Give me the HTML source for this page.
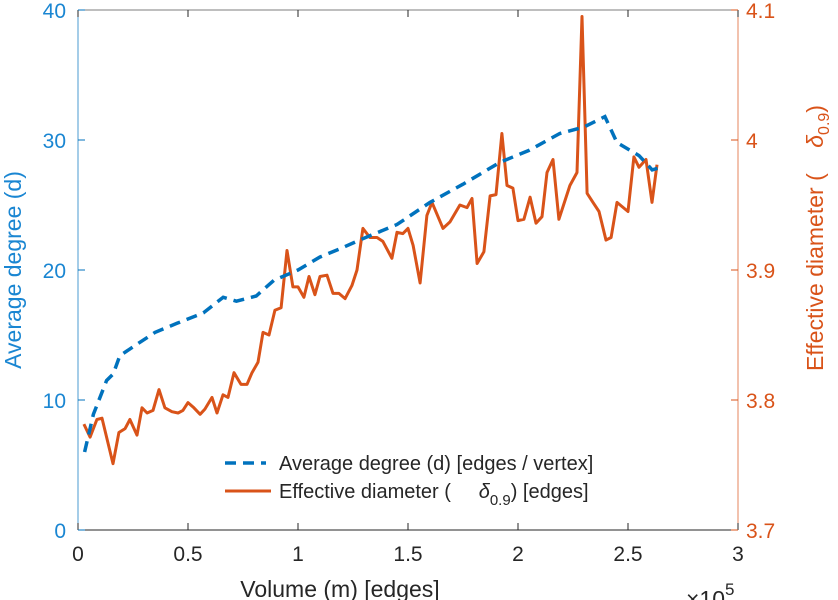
<!DOCTYPE html>
<html><head><meta charset="utf-8"><style>
html,body{margin:0;padding:0;background:#fff;}
svg{display:block;font-family:"Liberation Sans",sans-serif;}
</style></head><body>
<svg id="chart" width="838" height="600" viewBox="0 0 838 600"></svg>
<script>
const xTicks=[0,0.5,1,1.5,2,2.5,3];
const xTickLabels=["0","0.5","1","1.5","2","2.5","3"];
const leftTicks=[0,10,20,30,40];
const leftTickLabels=["0","10","20","30","40"];
const rightTicks=[3.7,3.8,3.9,4.0,4.1];
const rightTickLabels=["3.7","3.8","3.9","4","4.1"];
const degX=[0.03,0.07,0.13,0.16,0.19,0.26,0.35,0.45,0.57,0.66,0.72,0.81,0.89,1.0,1.1,1.2,1.28,1.35,1.45,1.6,1.75,1.92,2.05,2.19,2.3,2.395,2.45,2.55,2.61,2.65];
const degY=[6.0,8.9,11.5,12.0,13.4,14.2,15.2,15.9,16.7,17.9,17.6,18.0,19.2,20.0,21.0,21.7,22.3,22.8,23.5,25.2,26.6,28.3,29.2,30.5,31.0,31.8,29.8,28.8,27.7,27.9];
const diaX=[0.027,0.055,0.086,0.109,0.159,0.186,0.214,0.236,0.268,0.291,0.314,0.341,0.368,0.395,0.427,0.455,0.477,0.5,0.527,0.555,0.577,0.609,0.632,0.659,0.682,0.709,0.741,0.768,0.791,0.818,0.841,0.868,0.895,0.923,0.95,0.977,1.0,1.027,1.05,1.077,1.1,1.132,1.159,1.186,1.214,1.245,1.268,1.295,1.327,1.359,1.386,1.427,1.45,1.477,1.5,1.523,1.555,1.586,1.609,1.659,1.691,1.736,1.768,1.791,1.814,1.845,1.873,1.9,1.927,1.95,1.977,2.0,2.027,2.055,2.082,2.109,2.132,2.159,2.186,2.236,2.268,2.291,2.314,2.341,2.368,2.4,2.423,2.45,2.5,2.527,2.55,2.582,2.609,2.632];
const diaY=[3.7815,3.7715,3.785,3.786,3.751,3.775,3.778,3.785,3.773,3.794,3.790,3.792,3.808,3.794,3.791,3.790,3.792,3.798,3.794,3.789,3.793,3.802,3.790,3.804,3.802,3.821,3.812,3.812,3.821,3.829,3.852,3.850,3.869,3.871,3.915,3.887,3.887,3.879,3.895,3.881,3.895,3.896,3.882,3.882,3.878,3.888,3.900,3.932,3.925,3.925,3.922,3.909,3.929,3.928,3.932,3.919,3.890,3.942,3.952,3.932,3.937,3.950,3.948,3.955,3.905,3.914,3.957,3.958,4.005,3.965,3.963,3.938,3.939,3.956,3.936,3.941,3.975,3.985,3.939,3.965,3.975,4.095,3.959,3.952,3.945,3.923,3.925,3.952,3.945,3.987,3.979,3.985,3.952,3.981];

const L=78,R=738,T=10,B=530;
const BLUE="#0072BD",BLUET="#1a86d2",ORANGE="#D95319";
const sx=v=>L+(v-0)/3*(R-L);
const syL=v=>B-(v-0)/40*(B-T);
const syR=v=>B-(v-3.7)/0.4*(B-T);
const svg=document.getElementById('chart');
const NS="http://www.w3.org/2000/svg";
function mk(tag,attrs,parent){const e=document.createElementNS(NS,tag);for(const k in attrs)e.setAttribute(k,attrs[k]);(parent||svg).appendChild(e);return e;}

let e;
e=mk('line',{x1:L,y1:T,x2:R,y2:T,stroke:'#262626','stroke-width':1,opacity:0.6});

e=mk('line',{x1:L,y1:B,x2:R,y2:B,stroke:'#262626','stroke-width':1});

e=mk('line',{x1:L,y1:T,x2:L,y2:B,stroke:BLUE,'stroke-width':1,opacity:0.7});

e=mk('line',{x1:R,y1:T,x2:R,y2:B,stroke:ORANGE,'stroke-width':1,opacity:0.7});


xTicks.forEach((v,i)=>{
  const x=sx(v);
  let t=mk('line',{x1:x,y1:B,x2:x,y2:B-7,stroke:'#262626'});
  
  t=mk('line',{x1:x,y1:T,x2:x,y2:T+7,stroke:'#262626'});
  
  const lb=mk('text',{x:x,y:561,'text-anchor':'middle','font-size':21,fill:'#262626'});
  lb.textContent=xTickLabels[i];
  
});
leftTicks.forEach((v,i)=>{
  const y=syL(v);
  let t=mk('line',{x1:L,y1:y,x2:L+7,y2:y,stroke:BLUE});
  
  const lb=mk('text',{x:66,y:y+8,'text-anchor':'end','font-size':21,fill:BLUET});
  lb.textContent=leftTickLabels[i];
  
});
rightTicks.forEach((v,i)=>{
  const y=syR(v);
  let t=mk('line',{x1:R,y1:y,x2:R-7,y2:y,stroke:ORANGE});
  
  const lb=mk('text',{x:746,y:y+8,'text-anchor':'start','font-size':21,fill:ORANGE});
  lb.textContent=rightTickLabels[i];
  
});

let d=diaX.map((v,i)=>(i?'L':'M')+sx(v).toFixed(1)+','+syR(diaY[i]).toFixed(1)).join('');
e=mk('path',{d:d,fill:'none',stroke:ORANGE,'stroke-width':3,'stroke-linejoin':'round'});

d=degX.map((v,i)=>(i?'L':'M')+sx(v).toFixed(1)+','+syL(degY[i]).toFixed(1)).join('');
e=mk('path',{d:d,fill:'none',stroke:BLUE,'stroke-width':3.5,'stroke-dasharray':'11 7'});


e=mk('text',{x:0,y:0,'text-anchor':'middle','font-size':23,fill:BLUET,transform:'translate(21,270) rotate(-90)'});
e.textContent='Average degree (d)';

e=mk('text',{x:0,y:0,'text-anchor':'middle','font-size':23,fill:ORANGE,transform:'translate(823,238) rotate(-90)'});
e.innerHTML='Effective diameter (&#160;&#160;&#160;&#160;<tspan font-style="italic">δ</tspan><tspan font-size="16" dy="6">0.9</tspan><tspan dy="-6">)</tspan>';

e=mk('text',{x:340,y:597,'text-anchor':'middle','font-size':23,fill:'#262626'});
e.textContent='Volume (m) [edges]';

e=mk('text',{x:686,y:607,'font-size':23,fill:'#262626'});
e.innerHTML='×10<tspan font-size="17" dy="-12">5</tspan>';


const lg=mk('g',{});

e=mk('line',{x1:225,y1:463,x2:266,y2:463,stroke:BLUE,'stroke-width':3.5,'stroke-dasharray':'11 7'},lg);

e=mk('text',{x:279,y:470,'font-size':20,fill:'#262626'},lg);
e.textContent='Average degree (d) [edges / vertex]';

e=mk('line',{x1:225,y1:491,x2:271,y2:491,stroke:ORANGE,'stroke-width':3},lg);

e=mk('text',{x:279,y:498,'font-size':20,fill:'#262626'},lg);
e.innerHTML='Effective diameter (&#160;&#160;&#160;&#160;&#160;<tspan font-style="italic">δ</tspan><tspan font-size="15" dy="7">0.9</tspan><tspan dy="-7">) [edges]</tspan>';

</script>
</body></html>
